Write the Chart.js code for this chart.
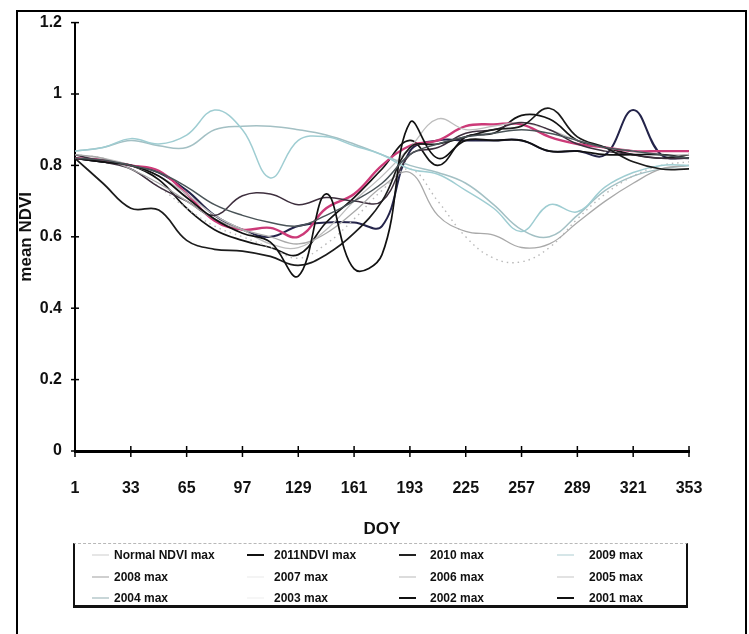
<!DOCTYPE html>
<html>
<head>
<meta charset="utf-8">
<script src="https://cdn.jsdelivr.net/npm/chart.js@4.4.1/dist/chart.umd.min.js"></script>
<style>
  html, body { margin: 0; padding: 0; background: #fff; }
  #wrap { position: relative; width: 749px; height: 634px; overflow: hidden; background: #fff; }
  #frame { position: absolute; left: 16px; top: 10px; width: 731px; height: 700px;
           border: 2px solid #000; box-sizing: border-box; }
  #chart { position: absolute; left: 0; top: 0; }
  #legend { position: absolute; left: 73px; top: 543px; width: 615px; height: 65px; box-sizing: border-box;
            border-left: 2px solid #111; border-right: 2px solid #111; border-bottom: 3px solid #111;
            border-top: 1px dashed #b8b8b8;
            font: bold 12px 'Liberation Sans', sans-serif; color: #111; }
  .swatch { position: absolute; width: 17px; height: 0; }
  .entry { position: absolute; line-height: 14px; white-space: nowrap; }
</style>
</head>
<body>
<div id="wrap">
  <div id="frame"></div>
  <canvas id="chart" width="749" height="634"></canvas>
  <div id="legend"></div>
</div>
<script>
// Day of year of each 16-day composite
const doy = [1, 17, 33, 49, 65, 81, 97, 113, 129, 145, 161, 177, 193, 209, 225, 241, 257, 273, 289, 305, 321, 337, 353];

// Y-axis tick values
const yTicks = [0, 0.2, 0.4, 0.6, 0.8, 1, 1.2];

// Series names, in legend order
const seriesNames = ['Normal NDVI max', '2011NDVI max', '2010 max', '2009 max',
                     '2008 max', '2007 max', '2006 max', '2005 max',
                     '2004 max', '2003 max', '2002 max', '2001 max'];

// Mean NDVI maxima per composite
const normalMax = [0.82, 0.815, 0.80, 0.78, 0.74, 0.69, 0.66, 0.64, 0.63, 0.66, 0.70, 0.75, 0.83, 0.86, 0.88, 0.89, 0.90, 0.89, 0.87, 0.85, 0.84, 0.83, 0.82];
const max2011  = [0.82, 0.81, 0.80, 0.77, 0.71, 0.65, 0.61, 0.585, 0.49, 0.72, 0.51, 0.55, 0.92, 0.82, 0.87, 0.87, 0.87, 0.84, 0.84, 0.83, 0.83, 0.83, 0.82];
const max2010  = [0.82, 0.75, 0.68, 0.675, 0.59, 0.565, 0.56, 0.545, 0.52, 0.55, 0.61, 0.70, 0.85, 0.86, 0.88, 0.90, 0.91, 0.96, 0.88, 0.85, 0.81, 0.79, 0.79];
const max2009  = [0.84, 0.85, 0.875, 0.86, 0.885, 0.955, 0.90, 0.765, 0.87, 0.88, 0.855, 0.83, 0.79, 0.775, 0.73, 0.68, 0.615, 0.69, 0.67, 0.74, 0.78, 0.80, 0.80];
const max2008  = [0.83, 0.82, 0.79, 0.75, 0.70, 0.65, 0.62, 0.60, 0.58, 0.61, 0.67, 0.74, 0.78, 0.66, 0.615, 0.605, 0.57, 0.58, 0.64, 0.70, 0.75, 0.79, 0.80];
const max2007  = [0.83, 0.81, 0.79, 0.74, 0.70, 0.66, 0.715, 0.72, 0.69, 0.71, 0.70, 0.70, 0.83, 0.85, 0.89, 0.90, 0.92, 0.90, 0.86, 0.84, 0.83, 0.82, 0.82];
const max2006  = [0.83, 0.82, 0.79, 0.74, 0.68, 0.63, 0.60, 0.57, 0.54, 0.58, 0.65, 0.73, 0.79, 0.70, 0.60, 0.54, 0.53, 0.57, 0.65, 0.72, 0.77, 0.80, 0.81];
const max2005  = [0.83, 0.82, 0.80, 0.77, 0.72, 0.66, 0.62, 0.58, 0.57, 0.62, 0.70, 0.77, 0.85, 0.93, 0.90, 0.91, 0.92, 0.90, 0.87, 0.85, 0.84, 0.83, 0.83];
const max2004  = [0.84, 0.85, 0.87, 0.855, 0.85, 0.90, 0.91, 0.91, 0.90, 0.885, 0.86, 0.83, 0.80, 0.78, 0.75, 0.69, 0.62, 0.60, 0.66, 0.73, 0.77, 0.79, 0.80];
const max2003  = [0.82, 0.815, 0.80, 0.785, 0.72, 0.645, 0.62, 0.625, 0.60, 0.68, 0.72, 0.80, 0.855, 0.87, 0.91, 0.915, 0.915, 0.88, 0.86, 0.85, 0.84, 0.84, 0.84];
const max2002  = [0.82, 0.81, 0.80, 0.76, 0.68, 0.62, 0.59, 0.57, 0.55, 0.64, 0.71, 0.79, 0.87, 0.80, 0.88, 0.89, 0.94, 0.93, 0.87, 0.85, 0.83, 0.82, 0.83];
const max2001  = [0.82, 0.81, 0.80, 0.78, 0.73, 0.66, 0.62, 0.60, 0.63, 0.64, 0.64, 0.63, 0.84, 0.87, 0.87, 0.87, 0.87, 0.84, 0.84, 0.83, 0.955, 0.83, 0.82];

const seriesValues = [normalMax, max2011, max2010, max2009, max2008, max2007,
                      max2006, max2005, max2004, max2003, max2002, max2001];

// Line styles per series
const lineColors = ['#4a5458', '#111111', '#1c1c1c', '#9fcdd2', '#a9a9a9', '#3e2f3e',
                    '#b9b9b9', '#bdbdbd', '#a3c0c4', '#cc3a78', '#141414', '#24244a'];
const lineWidths = [1.5, 1.7, 1.7, 1.5, 1.3, 1.5, 1.4, 1.3, 1.5, 2.4, 1.7, 2.0];
const lineDashes = [[], [], [], [], [], [], [1.5, 4], [], [], [], [], []];
const legendSwatch = ['#e6e6e6', '#111111', '#222222', '#d6e6e8', '#cfcfcf', '#f4f4f4',
                      '#dcdcdc', '#e2e2e2', '#c8d6d8', '#f6f6f6', '#111111', '#111111'];

const TICK_FONT = "'Liberation Sans', sans-serif";

const datasets = seriesNames.map((name, i) => ({
  label: name,
  data: seriesValues[i],
  borderColor: lineColors[i],
  borderWidth: lineWidths[i],
  borderDash: lineDashes[i],
  pointRadius: 0,
  fill: false,
  tension: 0.4
}));

// Small crossing tick marks on both axes
const crossTicks = {
  id: 'crossTicks',
  afterDraw(chart) {
    const { ctx, scales: { x, y } } = chart;
    ctx.save();
    ctx.strokeStyle = '#000';
    ctx.lineWidth = 1.5;
    x.ticks.forEach((t, i) => {
      if (i % 2) return;
      const px = x.getPixelForTick(i);
      ctx.beginPath();
      ctx.moveTo(px, x.top - 5);
      ctx.lineTo(px, x.top + 6);
      ctx.stroke();
    });
    y.ticks.forEach((t, i) => {
      const py = y.getPixelForTick(i);
      ctx.beginPath();
      ctx.moveTo(y.right - 4, py);
      ctx.lineTo(y.right + 4, py);
      ctx.stroke();
    });
    ctx.restore();
  }
};

new Chart(document.getElementById('chart'), {
  type: 'line',
  data: { labels: doy, datasets },
  options: {
    responsive: false,
    animation: false,
    layout: { padding: { top: 22, right: 60, left: 0, bottom: 0 } },
    plugins: { legend: { display: false }, tooltip: { enabled: false } },
    scales: {
      x: {
        type: 'category',
        offset: false,
        grid: { display: false, drawTicks: false },
        border: { display: true, color: '#000', width: 3 },
        ticks: {
          autoSkip: false, maxRotation: 0, padding: 28, color: '#111',
          font: { family: TICK_FONT, size: 16, weight: 'bold' },
          callback: (v, i) => (i % 2 === 0 ? String(doy[i]) : '')
        },
        title: {
          display: true, text: 'DOY', color: '#111',
          font: { family: TICK_FONT, size: 17, weight: 'bold' },
          padding: { top: 0, bottom: 94 }
        },
        afterFit: (s) => { s.height = 183; }
      },
      y: {
        min: 0, max: 1.2,
        afterBuildTicks: (s) => { s.ticks = yTicks.map(v => ({ value: v })); },
        grid: { display: false, drawTicks: false },
        border: { display: true, color: '#000', width: 2 },
        ticks: {
          padding: 13, color: '#111',
          font: { family: TICK_FONT, size: 16, weight: 'bold' },
          callback: (v) => String(Number(v.toFixed(1)))
        },
        title: {
          display: true, text: 'mean NDVI', color: '#111',
          font: { family: TICK_FONT, size: 17, weight: 'bold' },
          padding: { top: 16, bottom: 0 }
        },
        afterFit: (s) => { s.width = 75; }
      }
    }
  },
  plugins: [crossTicks]
});

// Legend box: four columns, three rows
const legend = document.getElementById('legend');
const swatchX = [17, 172, 324, 482];
const textX = [39, 199, 355, 514];
const rowY = [11, 33, 54];
seriesNames.forEach((name, i) => {
  const col = i % 4, row = Math.floor(i / 4);
  const sw = document.createElement('div');
  sw.className = 'swatch';
  sw.style.left = swatchX[col] + 'px';
  sw.style.top = (rowY[row] - 1) + 'px';
  sw.style.borderTop = '2px solid ' + legendSwatch[i];
  legend.appendChild(sw);
  const tx = document.createElement('div');
  tx.className = 'entry';
  tx.style.left = textX[col] + 'px';
  tx.style.top = (rowY[row] - 7) + 'px';
  tx.textContent = name;
  legend.appendChild(tx);
});
</script>
</body>
</html>
